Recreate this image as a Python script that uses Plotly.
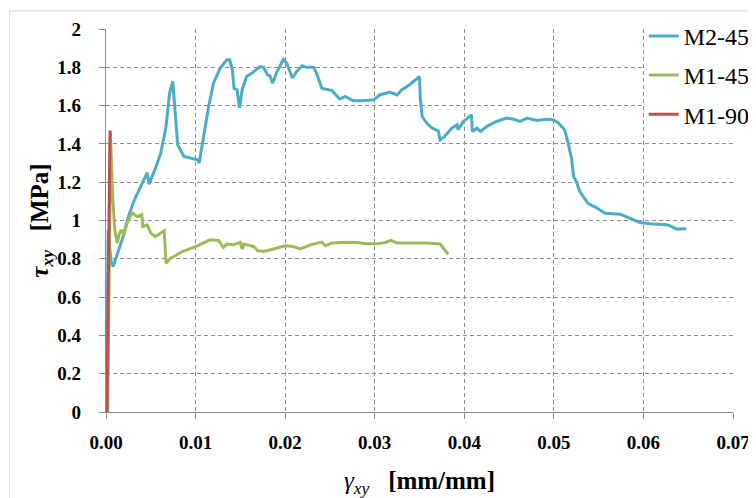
import plotly.graph_objects as go

# ---- data ----
m245_x = [0, 0.0001, 0.00025, 0.0004, 0.0006, 0.0008, 0.001, 0.0018, 0.0025, 0.0031,
          0.0037, 0.0046, 0.0048, 0.0055, 0.0061, 0.0067, 0.0071, 0.00745, 0.0077, 0.0080,
          0.0087, 0.0096, 0.0102, 0.0104, 0.0107, 0.0109, 0.01146, 0.0120, 0.01276, 0.0135,
          0.0138, 0.0141, 0.0143, 0.01463, 0.0149, 0.0152, 0.0157, 0.0163, 0.0172, 0.0176,
          0.0180, 0.0183, 0.0186, 0.0191, 0.0198, 0.0202, 0.0208, 0.0213, 0.0219, 0.0224,
          0.0232, 0.0235, 0.0241, 0.0252, 0.0256, 0.0261, 0.0267, 0.0276, 0.0287, 0.0299,
          0.0306, 0.0317, 0.0325, 0.0330, 0.0339, 0.0348, 0.0350, 0.0351, 0.0353, 0.0358,
          0.0364, 0.0371, 0.0373, 0.0378, 0.0386, 0.0392, 0.0393, 0.0399, 0.0408, 0.0409,
          0.0414, 0.0418, 0.0425, 0.0436, 0.0447, 0.0455, 0.0462, 0.0470, 0.0481, 0.0492,
          0.0499, 0.0505, 0.0512, 0.0516, 0.0520, 0.0522, 0.0525, 0.0529, 0.0533, 0.0538,
          0.0548, 0.0557, 0.0574, 0.0585, 0.0596, 0.0607, 0.0626, 0.0631, 0.0637, 0.0648]
m245_y = [0, 0.35, 0.95, 0.86, 0.78, 0.76, 0.79, 0.90, 1.02, 1.10,
          1.16, 1.25, 1.19, 1.27, 1.35, 1.49, 1.665, 1.726, 1.58, 1.395,
          1.334, 1.326, 1.317, 1.30, 1.386, 1.42, 1.595, 1.717, 1.796, 1.84,
          1.84, 1.787, 1.69, 1.683, 1.587, 1.683, 1.752, 1.77, 1.804, 1.80,
          1.761, 1.756, 1.717, 1.778, 1.84, 1.82, 1.744, 1.778, 1.808, 1.80,
          1.80, 1.77, 1.69, 1.68, 1.66, 1.634, 1.648, 1.625, 1.625, 1.63,
          1.657, 1.67, 1.656, 1.682, 1.709, 1.743, 1.752, 1.63, 1.543, 1.509,
          1.483, 1.468, 1.421, 1.439, 1.482, 1.50, 1.474, 1.517, 1.552, 1.465,
          1.482, 1.465, 1.491, 1.517, 1.535, 1.529, 1.517, 1.535, 1.522, 1.529,
          1.526, 1.509, 1.474, 1.404, 1.317, 1.230, 1.204, 1.151, 1.125, 1.09,
          1.065, 1.038, 1.033, 1.013, 0.99, 0.983, 0.978, 0.969, 0.955, 0.957]

m145_x = [0.0002, 0.0003, 0.0004, 0.0005, 0.00076, 0.00098, 0.00125, 0.0015, 0.0017, 0.002,
          0.00236, 0.0027, 0.003, 0.0035, 0.004, 0.0041, 0.0046, 0.005, 0.0055, 0.0061,
          0.0065, 0.0067, 0.0072, 0.0076, 0.0085, 0.0100, 0.0111, 0.0116, 0.01257, 0.0131,
          0.0135, 0.0142, 0.0150, 0.0152, 0.0154, 0.0165, 0.0169, 0.0176, 0.0187, 0.0200,
          0.0209, 0.0217, 0.0228, 0.0241, 0.0245, 0.0252, 0.0269, 0.0280, 0.0291, 0.0302,
          0.0312, 0.0318, 0.0325, 0.0339, 0.0358, 0.0373, 0.0378, 0.0382]
m145_y = [0, 0.5, 1.2, 1.44, 1.108, 0.95, 0.882, 0.934, 0.95, 0.925,
          0.986, 1.02, 1.039, 1.02, 1.03, 0.968, 0.977, 0.934, 0.916, 0.934,
          0.946, 0.777, 0.803, 0.812, 0.838, 0.864, 0.89, 0.899, 0.896, 0.859,
          0.877, 0.873, 0.885, 0.851, 0.877, 0.864, 0.843, 0.838, 0.851, 0.868,
          0.864, 0.852, 0.873, 0.887, 0.868, 0.882, 0.887, 0.885, 0.878, 0.878,
          0.885, 0.896, 0.882, 0.882, 0.882, 0.877, 0.847, 0.824]

m190_x = [0.0001, 0.0002, 0.0003, 0.0004, 0.00045, 0.0005]
m190_y = [0, 0.5, 1.1, 1.46, 1.47, 1.44]

series = [("M2-45", m245_x, m245_y, "#4BACC6"),
          ("M1-45", m145_x, m145_y, "#9BBB59"),
          ("M1-90", m190_x, m190_y, "#C0504D")]

FONT = "Liberation Serif"

fig = go.Figure()
for name, xs, ys, col in series:
    fig.add_trace(go.Scatter(x=xs, y=ys, mode="lines", name=name, legendgroup=name,
                             line=dict(color=col, width=3)))

# page offset (browser body margin) and plot-area geometry in page pixels
OFF = 8
W, H = 756 - OFF, 498 - OFF
L, R, T, B = 105.5 - OFF, 733.4 - OFF, 29.2 - OFF, 412.2 - OFF
pw, ph = R - L, B - T

def px(xp):
    return (xp - OFF - L) / pw

def py(yp):
    return (B - (yp - OFF)) / ph

GRID = "#8c8c8c"

fig.update_layout(
    template="none",
    width=W, height=H,
    margin=dict(l=L, r=W - R, t=T, b=H - B, pad=0, autoexpand=False),
    paper_bgcolor="white", plot_bgcolor="white",
    font=dict(family=FONT, color="black"),
    showlegend=True,
    legend=dict(x=px(644), y=py(14), xanchor="left", yanchor="top",
                bgcolor="white", borderwidth=0, traceorder="grouped",
                tracegroupgap=5, font=dict(family=FONT, size=24, color="black")),
    xaxis=dict(range=[0, 0.07], dtick=0.01, tick0=0, tickformat=".2f",
               showgrid=True, gridcolor=GRID, griddash="4px,3px", gridwidth=1,
               showline=True, linecolor=GRID, linewidth=1.3, automargin=False,
               ticks="outside", ticklen=6, tickcolor=GRID, tickwidth=1,
               zeroline=False, ticklabelstandoff=7,
               tickfont=dict(family=FONT, size=19, color="black", weight="bold"),
               title=dict(text="<i>γ<sub>xy</sub></i>   <b>[mm/mm]</b>",
                          font=dict(family=FONT, size=25, color="black"), standoff=20)),
    yaxis=dict(range=[0, 2], dtick=0.2, tick0=0,
               showgrid=True, gridcolor=GRID, griddash="4px,3px", gridwidth=1,
               showline=True, linecolor=GRID, linewidth=1.3, automargin=False,
               ticks="outside", ticklen=6, tickcolor=GRID, tickwidth=1,
               zeroline=False, ticklabelstandoff=14,
               tickfont=dict(family=FONT, size=19, color="black", weight="bold"),
               title=dict(text="<b><i>τ<sub>xy</sub></i></b>   <b>[MPa]</b>",
                          font=dict(family=FONT, size=25, color="black"), standoff=1)),
    shapes=[dict(type="rect", xref="paper", yref="paper",
                 x0=px(9), x1=px(770), y0=py(510), y1=py(11),
                 line=dict(color="#d9d9d9", width=1), layer="below")],
)

fig.write_html("out.html")
